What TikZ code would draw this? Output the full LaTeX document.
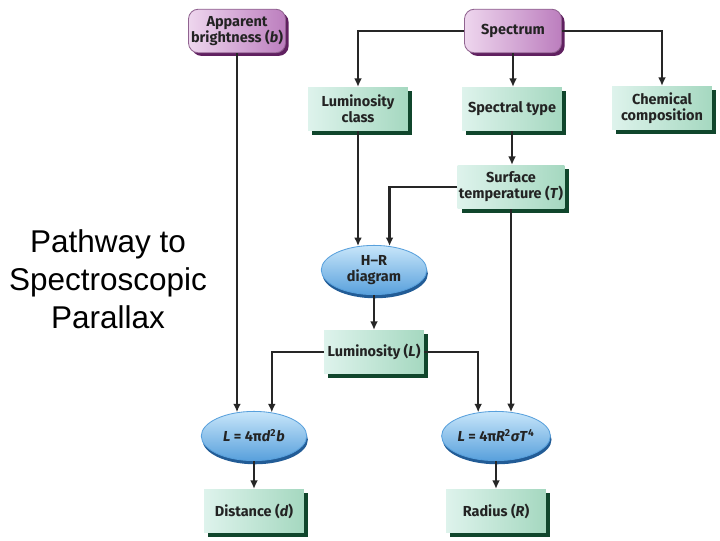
\documentclass[tikz,border=0pt]{standalone}
\usepackage{fontspec}
\setmainfont{Liberation Sans}
\newfontfamily\boxfont{Fira Sans}
\usepackage{tikz}
\usetikzlibrary{positioning, arrows.meta, shapes.geometric, shadows}
\definecolor{greenL}{RGB}{222,243,236}
\definecolor{greenR}{RGB}{165,216,192}
\definecolor{greenD}{RGB}{16,70,44}
\definecolor{purpL}{RGB}{238,214,238}
\definecolor{purpR}{RGB}{188,126,190}
\definecolor{purpD}{RGB}{96,32,96}
\definecolor{blueL}{RGB}{200,230,250}
\definecolor{blueR}{RGB}{88,160,220}
\definecolor{blueD}{RGB}{34,92,150}
\definecolor{txt}{RGB}{35,35,35}
\tikzset{
  lbl/.style={font=\boxfont\bfseries\fontsize{10.3}{11.5}\selectfont, text=txt, align=center, inner sep=1pt},
  greenbox/.style={lbl, rectangle, minimum width=71pt, minimum height=31pt,
    left color=greenL, right color=greenR,
    drop shadow={fill=greenD, opacity=1, shadow xshift=3pt, shadow yshift=-3pt}},
  purpbox/.style={lbl, rectangle, rounded corners=7pt, minimum width=69pt, minimum height=31pt,
    left color=purpL, right color=purpR, draw=purpD!70, line width=0.6pt,
    drop shadow={fill=purpD, opacity=1, shadow xshift=2.2pt, shadow yshift=-2.2pt}},
  blueell/.style={lbl, ellipse, minimum width=75pt, minimum height=35pt, inner sep=0pt,
    top color=blueL, bottom color=blueR, draw=blueR, line width=0.6pt,
    drop shadow={fill=blueD, opacity=1, shadow xshift=0.8pt, shadow yshift=-2.6pt}},
  arr/.style={draw=black!85, line width=1.5pt, -{Latex[length=6pt, width=5.5pt]}},
}
\begin{document}
\begin{tikzpicture}[x=0.025cm, y=-0.025cm]
\useasboundingbox (0,0) rectangle (720,540);
% title
\node[font=\fontsize{22.4}{27}\selectfont, align=center] (title) at (108,279) {Pathway to\\Spectroscopic\\Parallax};
% top row
\node[purpbox] (appb) at (237,31) {Apparent\\brightness (\textit{b})};
\node[purpbox] (spec) at (513,31) {Spectrum};
% second row
\node[greenbox] (lumcls) at (358,109) {Luminosity\\class};
\node[greenbox] (sptype) at (512,109) {Spectral type};
\node[greenbox] (chem) at (662,108) {Chemical\\composition};
\node[greenbox] (surf) at (511,187) {Surface\\temperature (\textit{T})};
% middle
\node[blueell] (hr) at (374,270) {H–R\\diagram};
\node[greenbox] (lum) at (374,352) {Luminosity (\textit{L})};
% bottom
\node[blueell] (eqd) at (254,436) {\textit{L} = 4π\textit{d}\textsuperscript{2}\textit{b}};
\node[blueell] (eqr) at (496,436) {\textit{L} = 4π\textit{R}\textsuperscript{2}\textit{σT}\textsuperscript{4}};
\node[greenbox] (dist) at (254,511) {Distance (\textit{d})};
\node[greenbox] (rad) at (496,511) {Radius (\textit{R})};
% connectors
\draw[arr] (spec.west) -| (lumcls.north);
\draw[arr] (spec.east) -| (chem.north);
\draw[arr] (spec.south) -- (spec.south |- sptype.north);
\draw[arr] (sptype.south) -- (sptype.south |- surf.north);
\draw[arr] (lumcls.south) -- (lumcls.south |- hr.123);
\draw[arr] (surf.west) -| (hr.57);
\draw[arr] (hr.south) -- (lum.north);
\draw[arr] (appb.south) -- (appb.south |- eqd.125);
\draw[arr] (lum.west) -| (eqd.53);
\draw[arr] (lum.east) -| (eqr.127);
\draw[arr] (surf.south) -- (surf.south |- eqr.55);
\draw[arr] (eqd.south) -- (dist.north);
\draw[arr] (eqr.south) -- (rad.north);
\end{tikzpicture}
\end{document}
